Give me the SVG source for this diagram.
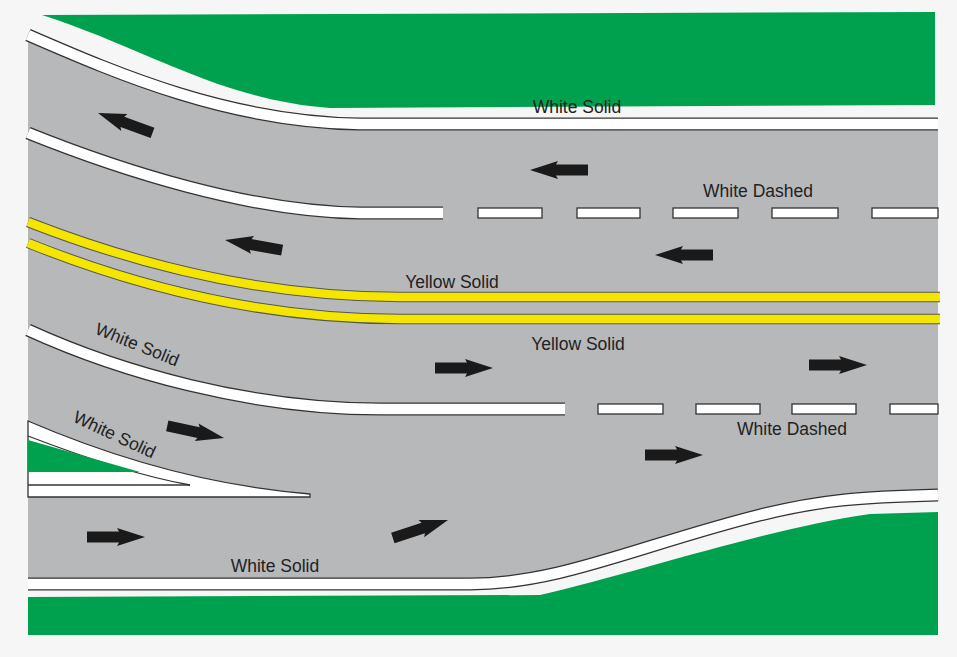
<svg xmlns="http://www.w3.org/2000/svg" width="957" height="657" viewBox="0 0 957 657">
<defs>
<style>
.o{fill:none;stroke:#333;stroke-width:13}
.w{fill:none;stroke:#fff;stroke-width:10.5}
.y{fill:none;stroke:#f5e600;stroke-width:8.5}
.yo{fill:none;stroke:#555;stroke-width:10.5}
.dash{fill:#fff;stroke:#333;stroke-width:1.3}
.t{font-family:"Liberation Sans",Arial,sans-serif;font-size:17.5px;fill:#222}
.ln{fill:none;stroke:#333;stroke-width:1.3}
</style>
<path id="ar" d="M-58,-5.5 L-26,-5.5 L-28,-9 L0,0 L-28,9 L-26,5.5 L-58,5.5 Z" fill="#1a1a1a"/>
</defs>
<rect width="957" height="657" fill="#f6f6f6"/>
<g id="ground">
<path d="M42,15 L935,12 L935,105 L330,108 C220,100 150,50 42,15 Z" fill="#00a14e"/>
<path d="M28,597 L540,595 C640,572 760,530 870,514 L938,512 L938,635 L28,635 Z" fill="#00a14e"/>
<path d="M28,35 C120,75 230,120 360,124 L938,124 L938,494 C860,496 820,500 760,515 C640,545 560,584 470,584 L28,584 Z" fill="#b7b8ba"/>
</g>
<g id="markings">
<path class="o" d="M28,35 C120,75 230,122 360,124 L938,124"/>
<path class="w" d="M28,35 C120,75 230,122 360,124 L938,124"/>
<path class="o" d="M28,133 C120,170 250,212 360,213 L443,213"/>
<path class="w" d="M28,133 C120,170 250,212 360,213 L443,213"/>
<g class="dash">
<rect x="478" y="208" width="64" height="10"/><rect x="577" y="208" width="63" height="10"/><rect x="673" y="208" width="65" height="10"/><rect x="772" y="208" width="66" height="10"/><rect x="872" y="208" width="66" height="10"/>
<rect x="598" y="404" width="65" height="10"/><rect x="696" y="404" width="64" height="10"/><rect x="792" y="404" width="64" height="10"/><rect x="890" y="404" width="48" height="10"/>
</g>
<path class="yo" d="M28,222 C120,258 250,297 400,297 L940,297"/>
<path class="y" d="M28,222 C120,258 250,297 400,297 L940,297"/>
<path class="yo" d="M28,243 C120,280 250,319 400,319 L940,319"/>
<path class="y" d="M28,243 C120,280 250,319 400,319 L940,319"/>
<path class="o" d="M28,330 C120,372 250,409 380,409 L565,409"/>
<path class="w" d="M28,330 C120,372 250,409 380,409 L565,409"/>
<path d="M28,421 C100,452 200,485 310,494 L310,497 L28,497 Z" fill="#fff" stroke="#333" stroke-width="1.3"/>
<path class="ln" d="M28,436 C80,456 140,476 190,485"/>
<path d="M28,440 L28,472 L140,472 Z" fill="#00a14e"/>
<path class="ln" d="M28,485 L190,485"/>
<path class="o" d="M28,584 L470,584 C560,584 640,545 760,515 C820,500 860,497 938,495"/>
<path class="w" d="M28,584 L470,584 C560,584 640,545 760,515 C820,500 860,497 938,495"/>
</g>
<g id="arrows">
<use href="#ar" transform="translate(98,113) rotate(200)"/>
<use href="#ar" transform="translate(530,170) rotate(180)"/>
<use href="#ar" transform="translate(225,240) rotate(190)"/>
<use href="#ar" transform="translate(655,255) rotate(180)"/>
<use href="#ar" transform="translate(493,368)"/>
<use href="#ar" transform="translate(867,365)"/>
<use href="#ar" transform="translate(224,438) rotate(12)"/>
<use href="#ar" transform="translate(703,455)"/>
<use href="#ar" transform="translate(145,537)"/>
<use href="#ar" transform="translate(448,520) rotate(-18)"/>
</g>
<g id="labels" class="t">
<text x="577" y="113" text-anchor="middle">White Solid</text>
<text x="758" y="197" text-anchor="middle">White Dashed</text>
<text x="452" y="288" text-anchor="middle">Yellow Solid</text>
<text x="578" y="350" text-anchor="middle">Yellow Solid</text>
<text transform="translate(135,350) rotate(22)" text-anchor="middle">White Solid</text>
<text transform="translate(112,440) rotate(25)" text-anchor="middle">White Solid</text>
<text x="792" y="435" text-anchor="middle">White Dashed</text>
<text x="275" y="572" text-anchor="middle">White Solid</text>
</g>
</svg>
